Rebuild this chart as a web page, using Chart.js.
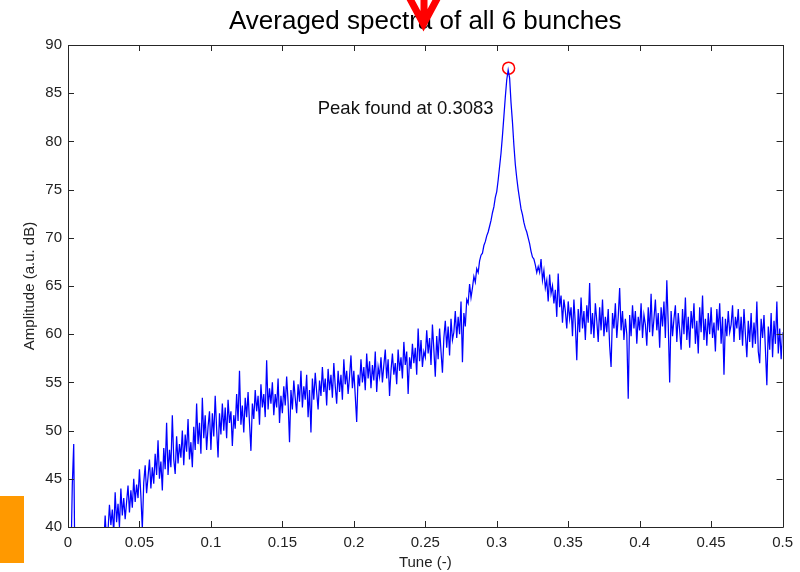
<!DOCTYPE html>
<html>
<head>
<meta charset="utf-8">
<script src="https://cdn.jsdelivr.net/npm/chart.js@4"></script>
<style>
  html, body { margin: 0; padding: 0; background: #fff; }
  canvas { display: block; }
</style>
</head>
<body>
<canvas id="spectrum" width="800" height="572"></canvas>
<script>
// amplitude (a.u. dB) sampled every 0.001 in tune, 0 .. 0.5 (10 values per row = 0.01)
const amplitude = [
  35, 34, 36, 44.3, 48.6, 33, 35, 34, 36, 33,
  35, 37, 34, 36, 33, 35, 37, 36, 34, 38,
  36, 38, 37, 39, 37, 38, 41.2, 38.5, 39.6, 42.3,
  40.2, 41.8, 39.4, 43.6, 40.5, 42.4, 40.0, 44.0, 41.2, 43.0,
  40.8, 42.6, 44.3, 41.5, 43.8, 42.0, 45.0, 42.6, 44.4, 43.0,
  46.0, 43.2, 39.8, 44.6, 46.4, 43.5, 45.2, 47.0, 44.0, 46.2,
  44.5, 47.6, 45.4, 49.0, 45.0, 46.8, 43.8, 48.2, 46.0, 50.8,
  45.4, 48.0, 46.2, 51.6, 47.0, 45.5, 49.4, 46.6, 48.6, 47.2,
  50.0, 46.4, 49.6, 47.8, 51.2, 47.0, 48.8, 46.2, 50.4, 48.0,
  52.8, 48.6, 50.8, 47.6, 53.4, 49.2, 51.6, 48.0, 50.4, 52.0,
  48.0, 51.8, 49.4, 53.6, 50.2, 47.2, 51.8, 49.6, 52.8, 50.0,
  52.4, 49.2, 53.2, 50.8, 52.0, 48.4, 51.6, 50.2, 53.8, 51.0,
  56.2, 50.6, 52.6, 49.8, 53.4, 51.4, 54.0, 50.8, 47.9, 52.8,
  51.2, 54.2, 52.0, 53.6, 50.6, 54.8, 52.4, 53.8, 51.4, 57.3,
  52.2, 54.4, 52.8, 55.0, 51.6, 53.8, 52.4, 55.4, 50.8, 53.6,
  51.8, 54.6, 52.6, 55.6, 53.0, 48.8, 54.2, 52.2, 55.2, 53.4,
  51.8, 54.8, 53.0, 56.2, 52.4, 54.6, 53.2, 55.8, 51.4, 54.2,
  49.8, 55.4, 53.2, 56.0, 54.0, 52.2, 55.2, 53.6, 56.6, 54.0,
  55.4, 52.6, 56.4, 54.2, 55.8, 53.4, 57.0, 54.6, 52.8, 56.2,
  54.0, 55.8, 53.2, 57.4, 54.8, 56.2, 53.8, 55.6, 57.8, 54.4,
  56.2, 53.6, 50.9, 55.8, 54.6, 57.4, 55.0, 56.6, 54.2, 58.0,
  55.4, 57.2, 54.4, 56.8, 55.2, 58.2, 54.0, 56.6, 55.6, 57.6,
  55.0, 56.8, 58.4, 55.4, 57.4, 53.6, 56.2, 58.0, 55.8, 57.0,
  54.8, 58.4, 56.2, 57.6, 55.4, 59.2, 56.8, 58.2, 53.8, 57.6,
  56.4, 59.0, 57.0, 58.6, 55.8, 60.6, 57.2, 59.4, 56.6, 58.2,
  57.6, 60.4, 58.0, 59.6, 56.8, 61.0, 58.4, 55.6, 59.8, 57.4,
  60.6, 58.2, 56.0, 59.6, 61.4, 58.6, 60.8, 57.8, 61.6, 59.4,
  60.2, 62.4, 59.6, 61.8, 60.0, 63.4, 57.1, 62.2, 60.8, 63.6,
  63.2, 65.2, 63.8, 64.8, 66.0, 65.4, 66.8, 66.4, 67.6, 68.2,
  68.4, 69.2, 69.6, 70.2, 70.6, 71.2, 71.8, 72.6, 73.2, 74.2,
  74.8, 76.0, 77.4, 78.8, 80.6, 82.6, 84.6, 86.4, 87.4, 86.6,
  84.0, 82.0, 79.6, 77.6, 76.2, 75.0, 74.0, 73.0, 72.4, 71.6,
  71.0, 70.6, 70.0, 69.4, 68.6, 68.0, 67.8, 67.2, 66.4, 67.0,
  66.4, 67.8, 65.6, 66.6, 64.8, 65.6, 63.4, 66.2, 64.2, 65.0,
  63.2, 64.6, 61.8, 66.3, 62.8, 64.0, 61.2, 63.6, 62.4, 60.6,
  63.4, 61.6, 62.8, 59.8, 63.6, 61.0, 57.3, 62.6, 60.2, 63.8,
  60.6, 62.4, 59.4, 63.0, 61.2, 65.3, 60.0, 62.2, 59.6, 63.2,
  61.4, 59.2, 62.8, 60.4, 63.6, 59.8, 61.8, 60.2, 62.6, 58.8,
  56.6, 62.2, 60.6, 63.2, 59.6, 61.8, 64.8, 60.4, 62.4, 59.4,
  61.6, 60.0, 53.3, 62.0, 59.8, 63.0, 60.6, 62.4, 59.0, 61.8,
  60.4, 63.2, 59.6, 62.0, 61.0, 58.8, 62.8, 60.2, 64.2, 59.8,
  61.6, 63.6, 60.4, 62.2, 58.6, 62.8, 60.8, 63.4, 59.6, 65.6,
  61.0, 55.0, 62.4, 59.8, 61.6, 63.0, 59.2, 62.2, 60.4, 58.4,
  62.6, 60.0, 63.8, 59.4, 61.8, 58.6, 62.4, 60.6, 63.2, 59.0,
  61.4, 58.0, 62.8, 60.2, 64.0, 59.4, 61.6, 58.8, 62.2, 60.0,
  62.8, 59.6, 61.2, 58.2, 62.6, 60.4, 63.2, 59.0, 61.8, 55.8,
  61.6, 59.8, 62.4, 60.2, 61.0, 63.0, 59.2, 61.8, 60.6, 62.6,
  59.4, 61.8, 58.8, 62.6, 60.0, 57.6, 61.4, 59.2, 62.2, 58.6,
  61.2, 59.0, 63.4, 58.2, 57.0, 61.6, 59.6, 62.0, 58.4, 54.7,
  60.8, 58.4, 62.2, 57.6, 61.4, 59.0, 63.4, 58.0, 60.6, 57.4,
  60.2
];
const tuneStep = 0.001;
const tune = amplitude.map((_, i) => +(i * tuneStep).toFixed(3));

const peakTune = [0.3083];
const peakAmp = [87.6];
const peakLabel = 'Peak found at 0.3083';
const chartTitle = 'Averaged spectra of all 6 bunches';

const xTicks = [0, 0.05, 0.1, 0.15, 0.2, 0.25, 0.3, 0.35, 0.4, 0.45, 0.5];
const yTicks = [40, 45, 50, 55, 60, 65, 70, 75, 80, 85, 90];

const FONT = '"Liberation Sans", Arial, Helvetica, sans-serif';

// matlab style box with inward ticks, title, annotation and overlays
const boxPlugin = {
  id: 'box',
  beforeDraw(chart) {
    const ctx = chart.ctx;
    ctx.save();
    ctx.fillStyle = '#fff';
    ctx.fillRect(0, 0, chart.width, chart.height);
    ctx.restore();
  },
  afterDraw(chart) {
    const { ctx, chartArea: a, scales: { x, y } } = chart;
    ctx.save();
    ctx.strokeStyle = '#262626';
    ctx.lineWidth = 1;
    ctx.beginPath();
    ctx.rect(Math.round(a.left) + 0.5, Math.round(a.top) + 0.5,
             Math.round(a.right - a.left), Math.round(a.bottom - a.top));
    xTicks.forEach(v => {
      const px = Math.round(x.getPixelForValue(v)) + 0.5;
      ctx.moveTo(px, a.bottom); ctx.lineTo(px, a.bottom - 6);
      ctx.moveTo(px, a.top); ctx.lineTo(px, a.top + 6);
    });
    yTicks.forEach(v => {
      const py = Math.round(y.getPixelForValue(v)) + 0.5;
      ctx.moveTo(a.left, py); ctx.lineTo(a.left + 6, py);
      ctx.moveTo(a.right, py); ctx.lineTo(a.right - 6, py);
    });
    ctx.stroke();

    // title over the plot centre
    ctx.fillStyle = '#000';
    ctx.font = '26px ' + FONT;
    ctx.textAlign = 'center';
    ctx.textBaseline = 'middle';
    ctx.fillText(chartTitle, (a.left + a.right) / 2, 22);

    // peak text
    ctx.fillStyle = '#111';
    ctx.font = '18.5px ' + FONT;
    ctx.textAlign = 'right';
    ctx.fillText(peakLabel, x.getPixelForValue(peakTune[0]) - 15, y.getPixelForValue(83.4));

    // red arrow over the title
    ctx.strokeStyle = '#ff0000';
    ctx.lineWidth = 7;
    ctx.lineJoin = 'miter';
    ctx.beginPath();
    ctx.moveTo(409, -3); ctx.lineTo(423.5, 24); ctx.lineTo(438, -3);
    ctx.moveTo(424, -2); ctx.lineTo(424, 23);
    ctx.stroke();

    // orange block at left
    ctx.fillStyle = '#ff9900';
    ctx.fillRect(0, 496, 24, 67);
    ctx.restore();
  }
};

new Chart(document.getElementById('spectrum'), {
  type: 'line',
  data: {
    datasets: [
      {
        data: tune.map((t, i) => ({ x: t, y: amplitude[i] })),
        borderColor: '#0000ff',
        borderWidth: 1.25,
        pointRadius: 0,
        tension: 0,
        fill: false
      },
      {
        data: peakTune.map((t, i) => ({ x: t, y: peakAmp[i] })),
        showLine: false,
        pointRadius: 6,
        pointBorderWidth: 1.5,
        pointBorderColor: '#ff0000',
        pointBackgroundColor: 'rgba(0,0,0,0)',
        clip: false
      }
    ]
  },
  options: {
    responsive: false,
    animation: false,
    devicePixelRatio: 1,
    layout: { padding: { left: 0, right: 16, top: 45, bottom: 0 } },
    plugins: {
      legend: { display: false },
      tooltip: { enabled: false },
      title: { display: false }
    },
    scales: {
      x: {
        type: 'linear',
        min: 0,
        max: 0.5,
        afterBuildTicks: s => { s.ticks = xTicks.map(v => ({ value: v })); },
        afterFit: s => { s.height = 45; },
        grid: { display: false, drawTicks: false },
        border: { display: false },
        ticks: {
          color: '#222',
          padding: 7,
          maxRotation: 0,
          font: { family: FONT, size: 15 },
          callback: v => String(Math.round(v * 100) / 100)
        },
        title: {
          display: true,
          text: 'Tune (-)',
          color: '#222',
          font: { family: FONT, size: 15 },
          padding: { top: 0, bottom: 0 }
        }
      },
      y: {
        min: 40,
        max: 90,
        afterBuildTicks: s => { s.ticks = yTicks.map(v => ({ value: v })); },
        afterFit: s => { s.width = 68; },
        grid: { display: false, drawTicks: false },
        border: { display: false },
        ticks: {
          color: '#222',
          padding: 6,
          font: { family: FONT, size: 15 }
        },
        title: {
          display: true,
          text: 'Amplitude (a.u. dB)',
          color: '#222',
          font: { family: FONT, size: 15 },
          padding: { top: 21, bottom: 0 }
        }
      }
    }
  },
  plugins: [boxPlugin]
});
</script>
</body>
</html>
